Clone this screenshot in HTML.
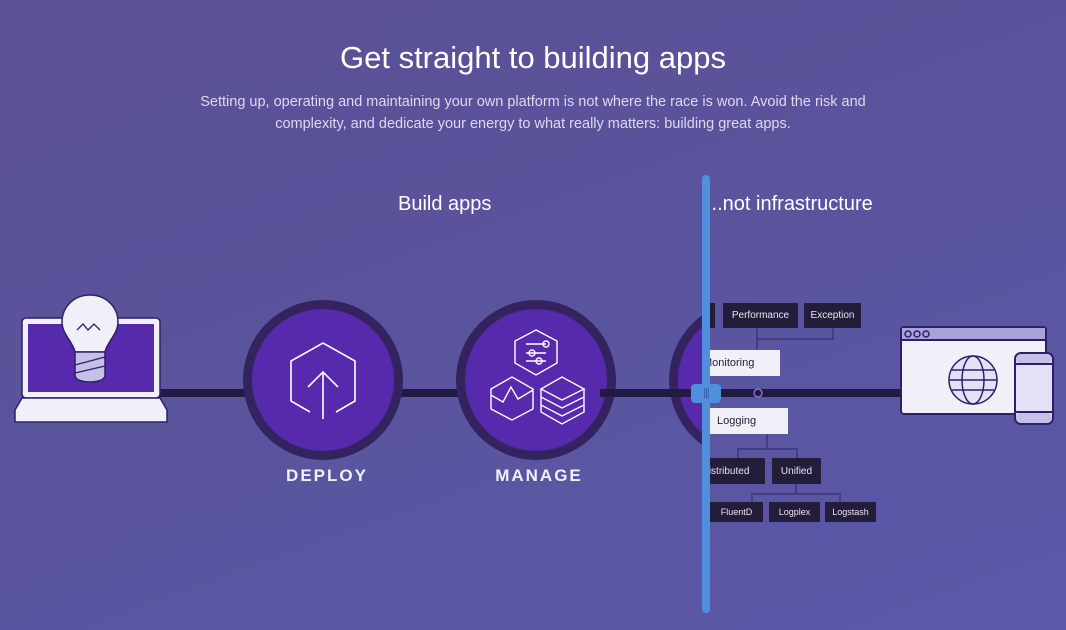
<!DOCTYPE html>
<html><head><meta charset="utf-8"><style>
body{margin:0;width:1066px;height:630px;overflow:hidden;background:linear-gradient(160deg,#5a5094 0%,#5a559f 60%,#5b58ab 100%);font-family:"Liberation Sans",sans-serif;position:relative}
.t{position:absolute;left:0;width:1066px;text-align:center;color:#fff}
.b{position:absolute;background:#231d3a;color:#e6e4f2;font-size:10px;display:flex;align-items:center;justify-content:center}
.w{position:absolute;background:#f1f0f8;color:#231d3a;font-size:11px;display:flex;align-items:center;padding-left:10px;box-sizing:border-box}
</style></head><body>
<div class="t" style="top:40px;font-size:31px;font-weight:300">Get straight to building apps</div>
<div class="t" style="top:91px;font-size:14.5px;line-height:22px;color:#dcdaf0">Setting up, operating and maintaining your own platform is not where the race is won. Avoid the risk and<br>complexity, and dedicate your energy to what really matters: building great apps.</div>
<div style="position:absolute;left:398px;top:193px;font-size:20px;color:#fff">Build apps</div>
<div style="position:absolute;left:706px;top:193px;width:172px;overflow:hidden;white-space:nowrap;font-size:20px;color:#fff">...not infrastructure</div>
<svg width="1066" height="630" style="position:absolute;left:0;top:0">
<defs><clipPath id="c"><rect x="0" y="0" width="705" height="630"/></clipPath></defs>
<rect x="150" y="389" width="760" height="8" fill="#231a44"/>
<g>
<circle cx="323" cy="380" r="80" fill="#33245f"/><circle cx="323" cy="380" r="71" fill="#5629ad"/>
<path d="M310 412 L291 401 V361 L323 343 L355 361 V401 L336 412" fill="none" stroke="#fff" stroke-width="1.6"/>
<path d="M323 419 V372 M308 387 L323 372 L338 387" fill="none" stroke="#fff" stroke-width="1.6"/>
<circle cx="536" cy="380" r="80" fill="#33245f"/><circle cx="536" cy="380" r="71" fill="#5629ad"/>
<g fill="none" stroke="#fff" stroke-width="1.4">
<path d="M536 330 L557 341 V363 L536 375 L515 363 V341 Z"/>
<path d="M526 344 H546 M526 353 H546 M526 361 H546"/><circle cx="546" cy="344" r="3"/><circle cx="532" cy="353" r="3"/><circle cx="539" cy="361" r="3"/>
<path d="M491 389 L512 377 L533 389 V409 L512 420 L491 409 Z M491 395 L503 402 L511 387 L518 399 L533 390"/>
<path d="M541 389 L562 377 L584 389 L562 400 Z M541 389 V397 L562 408 L584 397 V389 M541 397 V405 L562 416 L584 405 V397 M541 405 V412 L562 424 L584 412 V405"/>
</g>
<g clip-path="url(#c)"><circle cx="749" cy="380" r="80" fill="#33245f"/><circle cx="749" cy="380" r="71" fill="#5629ad"/><rect x="600" y="389" width="110" height="8" fill="#231a44"/></g>
</g>
<!-- laptop -->
<rect x="22" y="318" width="138" height="80" rx="4" fill="#f1f0f8" stroke="#2f1f6a" stroke-width="1.5"/>
<rect x="28" y="324" width="126" height="68" fill="#5629ad"/>
<path d="M15 410 L22 398 H160 L167 410 V422 H15 Z" fill="#f1f0f8" stroke="#2f1f6a" stroke-width="1.5"/>
<path d="M90 295 C73 295 62 308 62 322 C62 334 73 342 75 352 H105 C107 342 118 334 118 322 C118 308 107 295 90 295 Z" fill="#f1f0f8" stroke="#2f1f6a" stroke-width="1.5"/>
<path d="M75 352 H105 V375 C105 380 98 382 90 382 C82 382 75 380 75 375 Z" fill="#c6c0e8" stroke="#2f1f6a" stroke-width="1.5"/>
<path d="M77 330 L83 324 L88 330 L94 324 L100 330 M75 365 L105 357 M75 373 L105 366" fill="none" stroke="#2f1f6a" stroke-width="1.3"/>
<!-- browser -->
<rect x="901" y="327" width="145" height="87" rx="3" fill="#f1f0f8" stroke="#2f1f6a" stroke-width="2"/>
<rect x="902" y="328" width="143" height="12" fill="#a9a3d8"/><line x1="901" y1="340" x2="1046" y2="340" stroke="#2f1f6a" stroke-width="2"/>
<g fill="none" stroke="#2f1f6a" stroke-width="1.5"><circle cx="908" cy="334" r="3"/><circle cx="917" cy="334" r="3"/><circle cx="926" cy="334" r="3"/>
<circle cx="973" cy="380" r="24" fill="#e4e1f6"/><ellipse cx="973" cy="380" rx="11" ry="24"/><path d="M949 380 H997 M952 370 H994 M952 390 H994"/></g>
<rect x="1015" y="353" width="38" height="71" rx="6" fill="#e4e1f6" stroke="#2f1f6a" stroke-width="2"/>
<rect x="1016" y="354" width="36" height="10" rx="5" fill="#c6c0e8"/><rect x="1016" y="412" width="36" height="11" rx="5" fill="#c6c0e8"/>
<path d="M1015 364 H1053 M1015 412 H1053" stroke="#2f1f6a" stroke-width="2"/>
<!-- tree lines -->
<g stroke="#3e3579" stroke-width="1.5" fill="none">
<path d="M757 328 V350 M757 339 H833 V328 M767 434 V449 H738 V458 M767 449 H797 V458 M796 484 V494 H752 V502 M796 494 H840 V502"/>
</g>
</svg>
<div style="position:absolute;left:706px;top:0;width:360px;height:630px;overflow:hidden">
<div class="b" style="left:-10px;top:303px;width:19px;height:25px"></div>
<div class="b" style="left:17px;top:303px;width:75px;height:25px">Performance</div>
<div class="b" style="left:98px;top:303px;width:57px;height:25px">Exception</div>
<div class="w" style="left:-30px;top:350px;width:104px;height:26px;padding-left:27px">Monitoring</div>
<div class="w" style="left:-10px;top:408px;width:92px;height:26px;padding-left:21px">Logging</div>
<div class="b" style="left:-30px;top:458px;width:79px;height:26px;padding-left:10px">Distributed</div>
<div class="b" style="left:66px;top:458px;width:49px;height:26px">Unified</div>
<div class="b" style="left:4px;top:502px;width:53px;height:20px;font-size:9px">FluentD</div>
<div class="b" style="left:63px;top:502px;width:51px;height:20px;font-size:9px">Logplex</div>
<div class="b" style="left:119px;top:502px;width:51px;height:20px;font-size:9px">Logstash</div>
<svg width="20" height="20" style="position:absolute;left:42px;top:383px"><circle cx="10" cy="10" r="4" fill="#231a44" stroke="#7f6fd0" stroke-width="1.5"/></svg>
</div>
<div style="position:absolute;left:702px;top:175px;width:8px;height:438px;background:#4f8fdc;border-radius:4px"></div>
<div style="position:absolute;left:691px;top:384px;width:30px;height:19px;background:#4f8fdc;border-radius:4px;color:#2d5f9e;font-size:11px;text-align:center;line-height:19px;letter-spacing:-1px">|||</div>
<div class="t" style="left:227px;width:200px;top:466px;font-size:17px;font-weight:bold;letter-spacing:2px;color:#f1f0f8">DEPLOY</div>
<div class="t" style="left:439px;width:200px;top:466px;font-size:17px;font-weight:bold;letter-spacing:2px;color:#f1f0f8">MANAGE</div>
</body></html>
